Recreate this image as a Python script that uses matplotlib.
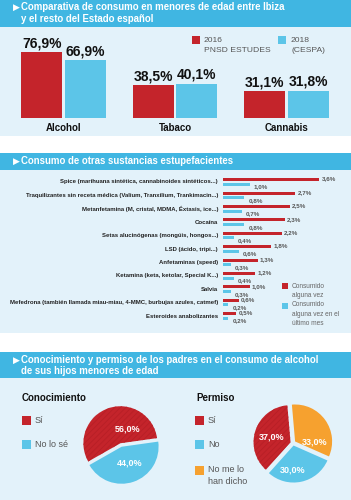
import matplotlib.pyplot as plt
from matplotlib.patches import Rectangle

plt.rcParams['font.family'] = ['Liberation Sans', 'DejaVu Sans']
plt.rcParams['hatch.linewidth'] = 0.6

# ---- data ----
cats1 = ['Alcohol', 'Tabaco', 'Cannabis']
vals_2016 = [76.9, 38.5, 31.1]
vals_2018 = [66.9, 40.1, 31.8]

subst = ['Spice (marihuana sintética, cannabinoides sintéticos...)',
         'Traquilizantes sin receta médica (Valium, Tranxilium, Trankimacin...)',
         'Metanfetamina (M, cristal, MDMA, Éxtasis, ice...)',
         'Cocaína',
         'Setas alucinógenas (mongúis, hongos...)',
         'LSD (ácido, tripi...)',
         'Anfetaminas (speed)',
         'Ketamina (keta, ketolar, Special K...)',
         'Salvia',
         'Mefedrona (también llamada miau-miau, 4-MMC, burbujas azules, catmef)',
         'Esteroides anabolizantes']
alguna_vez = [3.6, 2.7, 2.5, 2.3, 2.2, 1.8, 1.3, 1.2, 1.0, 0.6, 0.5]
ultimo_mes = [1.0, 0.8, 0.7, 0.8, 0.4, 0.6, 0.3, 0.4, 0.3, 0.2, 0.2]

conoc_labels = ['Sí', 'No lo sé']
conoc_vals = [56.0, 44.0]
permiso_labels = ['Sí', 'No', 'No me lo\nhan dicho']
permiso_vals = [37.0, 30.0, 33.0]

RED = '#c4242b'
BLUE = '#5cc5e8'
ORANGE = '#f6a12f'
HEAD = '#40b6e2'
LIGHT = '#e3f2fa'
GRAY = '#555555'

W, H = 351, 500
fig = plt.figure(figsize=(3.51, 5.0), dpi=100)


def px_axes(x0, y0, x1, y1):
    return fig.add_axes([x0 / W, 1 - y1 / H, (x1 - x0) / W, (y1 - y0) / H])


def fmt(v):
    return f'{v:.1f}%'.replace('.', ',')


# background
bg = fig.add_axes([0, 0, 1, 1])
bg.set_xlim(0, W)
bg.set_ylim(H, 0)
bg.axis('off')
for y0, y1 in [(27, 136), (170, 333), (378, 500)]:
    bg.add_patch(Rectangle((0, y0), W, y1 - y0, color=LIGHT, lw=0))
for y0, y1 in [(0, 27), (153, 170), (352, 378)]:
    bg.add_patch(Rectangle((0, y0), W, y1 - y0, color=HEAD, lw=0))

hkw = dict(color='white', fontsize=6.9, fontweight='bold', va='center')
akw = dict(color='white', fontsize=6.5, va='center', family='DejaVu Sans')
bg.text(12.5, 7.5, '▶', **akw)
bg.text(21, 7.5, 'Comparativa de consumo en menores de edad entre Ibiza', **hkw)
bg.text(21, 19, 'y el resto del Estado español', **hkw)
bg.text(12.5, 161.5, '▶', **akw)
bg.text(21, 161.5, 'Consumo de otras sustancias estupefacientes', **hkw)
bg.text(12.5, 360, '▶', **akw)
bg.text(21, 360, 'Conocimiento y permiso de los padres en el consumo de alcohol', **hkw)
bg.text(21, 371, 'de sus hijos menores de edad', **hkw)

# ---- CHART 1 ----
ax1 = px_axes(0, 30, W, 118)
x = range(len(cats1))
b1 = ax1.bar([i - 0.195 for i in x], vals_2016, width=0.365, color=RED)
b2 = ax1.bar([i + 0.195 for i in x], vals_2018, width=0.365, color=BLUE)
for bars, vals in [(b1, vals_2016), (b2, vals_2018)]:
    for b, v in zip(bars, vals):
        ax1.text(b.get_x() + b.get_width() / 2, v + 2, fmt(v), ha='center', va='bottom',
                 fontsize=10, fontweight='bold', color='#111111')
for i, c in enumerate(cats1):
    ax1.text(i, -11.5, c, ha='center', va='center', fontsize=7, fontweight='bold',
             color='#111111', clip_on=False)
ax1.set_xlim(-0.5695, 2.578)
ax1.set_ylim(0, 102.3)
ax1.axis('off')

bg.add_patch(Rectangle((192, 36), 8, 8, color=RED, lw=0))
bg.text(204, 40, '2016', fontsize=6.1, color=GRAY, va='center')
bg.text(204, 50.5, 'PNSD ESTUDES', fontsize=6.1, color=GRAY, va='center')
bg.add_patch(Rectangle((278, 36), 8, 8, color=BLUE, lw=0))
bg.text(291, 40, '2018', fontsize=6.1, color=GRAY, va='center')
bg.text(291, 50.5, '(CESPA)', fontsize=6.1, color=GRAY, va='center')

# ---- CHART 2 ----
ax2 = px_axes(223, 170, W, 333)
step = 13.4
pxx = 26.8
rows = range(len(subst))
off = 2.3 / step
ax2.barh([i - off for i in rows], alguna_vez, height=3 / step, color=RED)
ax2.barh([i + off for i in rows], ultimo_mes, height=3 / step, color=BLUE)
for i in rows:
    ax2.text(-5 / pxx, i, subst[i], ha='right', va='center', fontsize=4.3,
             fontweight='bold', color='#222222', clip_on=False)
    ax2.text(alguna_vez[i] + 2 / pxx, i - off - 0.05, fmt(alguna_vez[i]), ha='left',
             va='center', fontsize=4.5, fontweight='bold', color=GRAY)
    ax2.text(ultimo_mes[i] + 4 / pxx, i + off + 0.2, fmt(ultimo_mes[i]), ha='left',
             va='center', fontsize=4.5, fontweight='bold', color=GRAY)
ax2.set_xlim(0, 128 / pxx)
ax2.set_ylim((333 - 182) / step, (170 - 182) / step)
ax2.axis('off')

bg.add_patch(Rectangle((282, 283), 6, 6, color=RED, lw=0))
bg.text(292, 282.5, 'Consumido\nalguna vez', fontsize=4.7, color='#666666', va='top',
        linespacing=1.45)
bg.add_patch(Rectangle((282, 303), 6, 6, color=BLUE, lw=0))
bg.text(292, 301.5, 'Consumido\nalguna vez en el\núltimo mes', fontsize=4.7, color='#666666',
        va='top', linespacing=1.45)

# ---- CHART 3: pies ----
bg.text(22, 398, 'Conocimiento', fontsize=7, fontweight='bold', color='#111111', va='center')
bg.text(196, 398, 'Permiso', fontsize=7, fontweight='bold', color='#111111', va='center')

for (lx, labels, cols) in [(22, conoc_labels, [RED, BLUE]),
                           (195, permiso_labels, [RED, BLUE, ORANGE])]:
    ys = [416, 440, 466]
    for lab, col, y in zip(labels, cols, ys):
        bg.add_patch(Rectangle((lx, y), 9, 9, color=col, lw=0))
        if '\n' in lab:
            bg.text(lx + 13, y - 0.5, lab, fontsize=6.5, color=GRAY, va='top', linespacing=1.3)
        else:
            bg.text(lx + 13, y + 4.5, lab, fontsize=6.5, color=GRAY, va='center')

r = 37
tp = dict(color='white', fontsize=6.5, fontweight='bold')

axp1 = px_axes(121 - 1.2 * r, 445 - 1.2 * r, 121 + 1.2 * r, 445 + 1.2 * r)
w1, t1, a1 = axp1.pie(conoc_vals, colors=[RED, BLUE], startangle=8, explode=[0.05, 0.05],
                      autopct=fmt, textprops=tp, wedgeprops=dict(linewidth=0))
a1[0].set_position((0.19, 0.43))
a1[1].set_position((0.24, -0.49))
axp1.set_xlim(-1.2, 1.2)
axp1.set_ylim(-1.2, 1.2)
axp1.set_aspect('equal')

axp2 = px_axes(293 - 1.2 * r, 443 - 1.2 * r, 293 + 1.2 * r, 443 + 1.2 * r)
w2, t2, a2 = axp2.pie(permiso_vals, colors=[RED, BLUE, ORANGE], startangle=95,
                      explode=[0.07, 0.07, 0.07], autopct=fmt, textprops=tp,
                      wedgeprops=dict(linewidth=0))
a2[0].set_position((-0.57, 0.16))
a2[1].set_position((0.0, -0.73))
a2[2].set_position((0.59, 0.03))
axp2.set_xlim(-1.2, 1.2)
axp2.set_ylim(-1.2, 1.2)
axp2.set_aspect('equal')

# faint diagonal texture on the red wedges
for w in (w1[0], w2[0]):
    w.set_hatch('//////')
    w.set_edgecolor('#b71f26')
    w.set_linewidth(0)

fig.savefig('out.png', dpi=100)
